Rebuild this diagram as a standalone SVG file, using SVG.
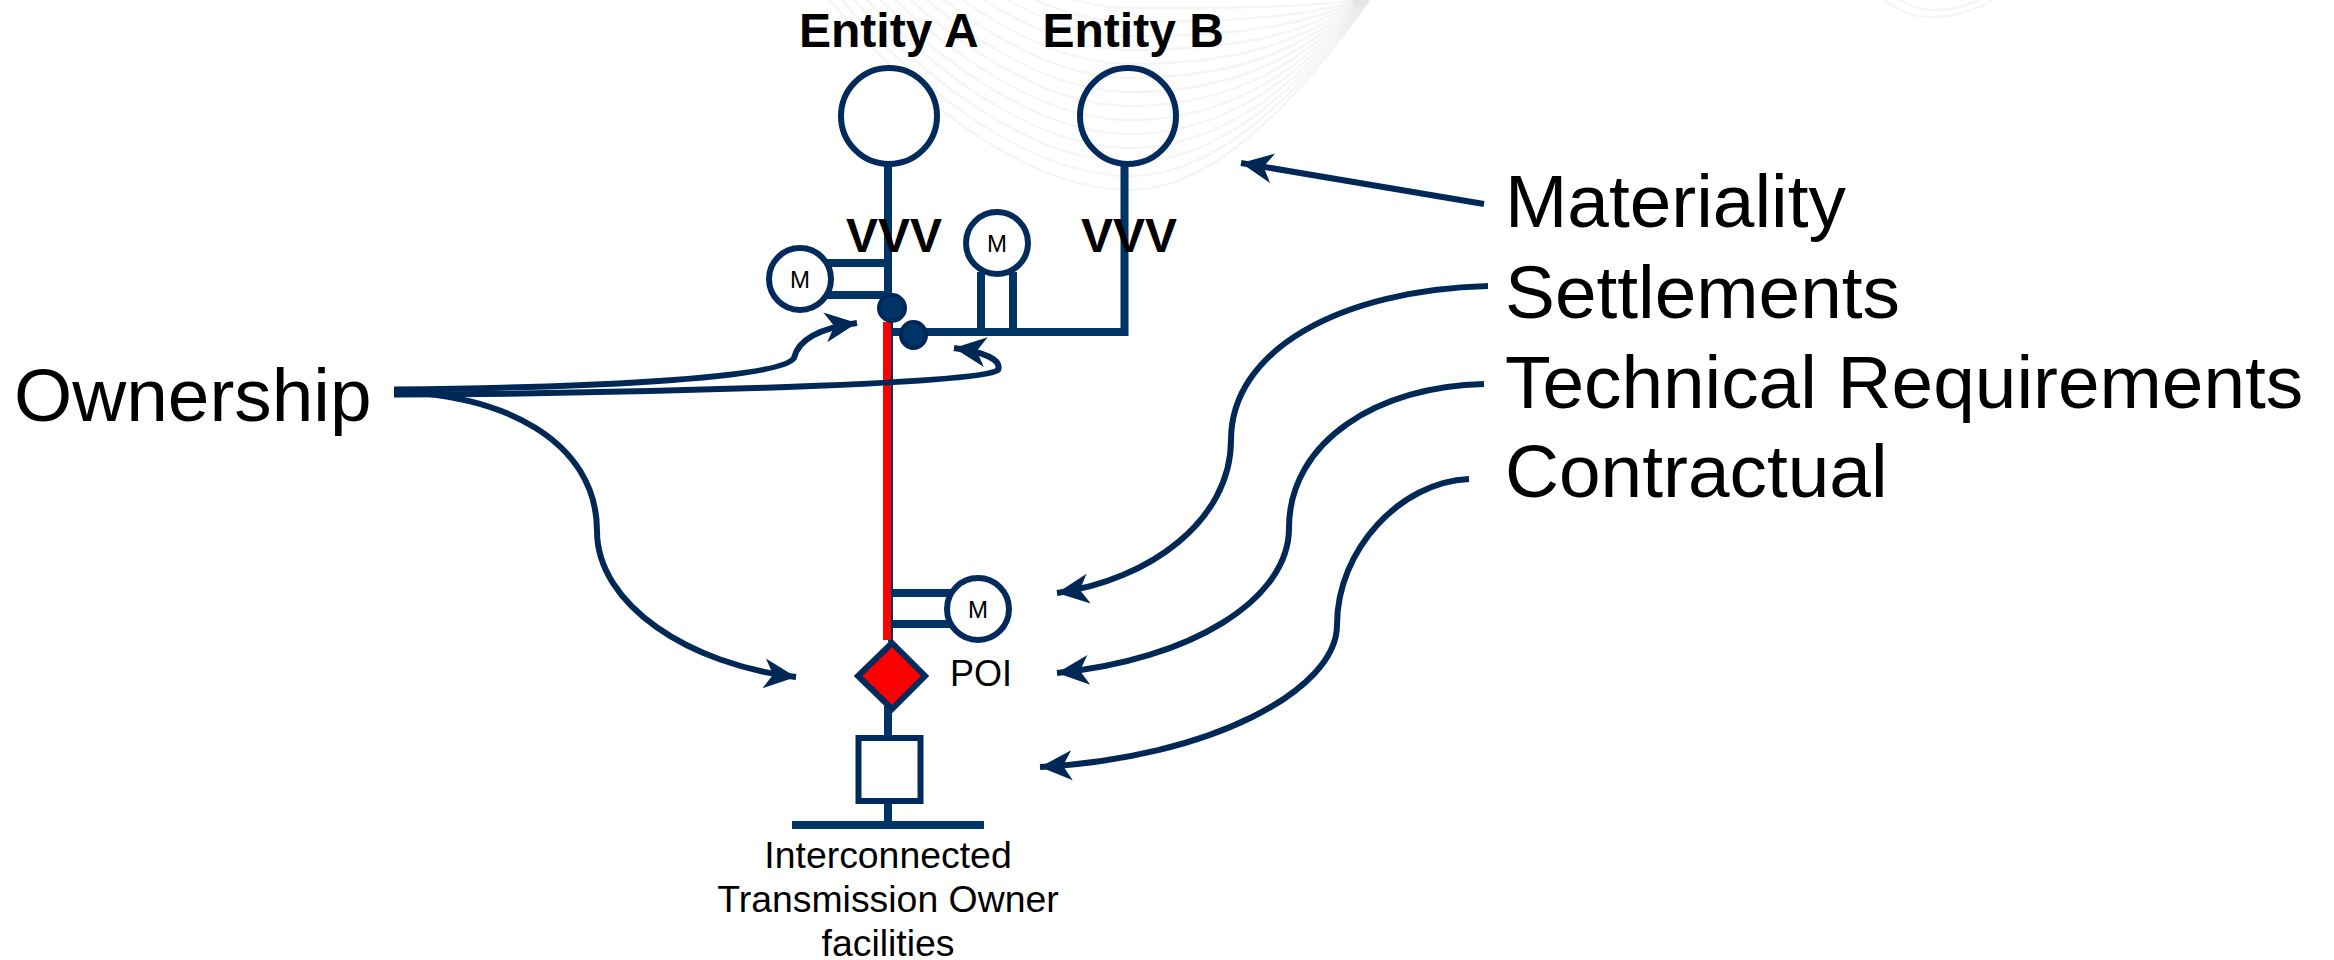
<svg xmlns="http://www.w3.org/2000/svg" width="2334" height="960" viewBox="0 0 2334 960">
<style>
.wm{fill:none;stroke:#000;stroke-opacity:.04;stroke-width:2.5}
.ln{fill:none;stroke:#003366;stroke-width:8}
.nd{fill:#fff;stroke:#002b5c;stroke-width:6}
.arr{fill:none;stroke:#002856;stroke-width:6;marker-end:url(#ah)}
.t{font-family:"Liberation Sans",Arial,sans-serif;fill:#000}
.big{font-size:74.8px}
.bold{font-size:48px;font-weight:700}
.m{font-size:24px;text-anchor:middle}
.lab{font-size:37.4px;text-anchor:middle}
.dot{fill:#003366;stroke:#002856;stroke-width:4}
</style>
<defs>
<marker id="ah" markerUnits="userSpaceOnUse" markerWidth="40" markerHeight="40" refX="32" refY="15" orient="auto" overflow="visible"><path d="M32 15L0 0L9 15L0 30Z" fill="#002856"/></marker>
</defs>
<g id="watermark">
<path class="wm" d="M830 0C930 120 1040 190 1130 190C1210 190 1290 110 1370 0"/>
<path class="wm" d="M830 -14C930 106 1040 176 1130 176C1214 176 1292 102 1369 0"/>
<path class="wm" d="M830 -28C930 92 1040 162 1130 162C1218 162 1294 94 1368 0"/>
<path class="wm" d="M830 -42C930 78 1040 148 1130 148C1222 148 1296 86 1367 0"/>
<path class="wm" d="M830 -56C930 64 1040 134 1130 134C1226 134 1298 78 1366 0"/>
<path class="wm" d="M830 -70C930 50 1040 120 1130 120C1230 120 1300 70 1365 0"/>
<path class="wm" d="M830 -84C930 36 1040 106 1130 106C1234 106 1302 62 1364 0"/>
<path class="wm" d="M830 -98C930 22 1040 92 1130 92C1238 92 1304 54 1363 0"/>
<path class="wm" d="M830 -112C930 8 1040 78 1130 78C1242 78 1306 46 1362 0"/>
<path class="wm" d="M830 -126C930 -6 1040 64 1130 64C1246 64 1308 38 1361 0"/>
<path class="wm" d="M830 -140C930 -20 1040 50 1130 50C1250 50 1310 30 1360 0"/>
<path class="wm" d="M830 -154C930 -34 1040 36 1130 36C1254 36 1312 22 1359 0"/>
<path class="wm" d="M830 -168C930 -48 1040 22 1130 22C1258 22 1314 14 1358 0"/>
<path class="wm" d="M830 -182C930 -62 1040 8 1130 8C1262 8 1316 6 1357 0"/>
<path class="wm" d="M1884 0C1905 15 1915 17 1935 17C1955 17 1975 10 1993 0"/>
<path class="wm" d="M1900 0C1915 9 1925 10 1938 10C1952 10 1965 6 1980 0"/>
</g>
<g id="connectors">
<path class="ln" d="M888 166V300"/>
<path class="ln" d="M1124.5 166V332H891"/>
<path class="ln" d="M981 272V332M1013 272V332"/>
<path class="ln" d="M888 263H826M888 295H826"/>
<path class="ln" d="M892 593H952M892 624H952"/>
<path class="ln" d="M888 706V738M888 800V825"/>
<path d="M890.500 322V642" fill="none" stroke="#003366" stroke-width="5"/>
<path d="M887 322V640" fill="none" stroke="#ff0000" stroke-width="8"/>
<path class="ln" d="M792 825H984"/>
<path d="M1484 204L1241 163" fill="none" stroke="#002856" stroke-width="6" marker-end="url(#ah)"/>
<path class="arr" d="M1488 286C1340 290 1231 350 1231 440C1231 520 1150 580 1057 593"/>
<path class="arr" d="M1484 384C1380 386 1289 440 1289 528C1289 600 1190 660 1057 673"/>
<path class="arr" d="M1469 479C1400 482 1337 550 1337 625C1337 690 1210 758 1040 767"/>
<path class="arr" d="M394 392C500 393 597 440 597 531C597 605 690 665 796 677"/>
<path class="arr" d="M394 389.500C560 388 780 380 794 358C798 340 820 328 857 323"/>
<path class="arr" d="M394 394.500C600 394 980 385 998 370C1002 360 985 352 954 348"/>
</g>
<g id="entity-a"><circle class="nd" cx="889" cy="116" r="48"/><text class="t bold" x="799" y="47">Entity A</text><text class="t bold" x="846" y="252">VVV</text></g>
<g id="entity-b"><circle class="nd" cx="1128" cy="116" r="48" style="fill:none"/><text class="t bold" x="1042.500" y="47">Entity B</text><text class="t bold" x="1081" y="252">VVV</text></g>
<g id="meter-a"><circle class="nd" cx="800" cy="279" r="31"/><text class="t m" x="800" y="288">M</text></g>
<g id="meter-b"><circle class="nd" cx="997" cy="243" r="31"/><text class="t m" x="997" y="252">M</text></g>
<g id="meter-poi"><circle class="nd" cx="978" cy="609" r="31"/><text class="t m" x="978" y="618">M</text></g>
<g id="breaker-a"><ellipse class="dot" cx="892" cy="308" rx="13" ry="13"/></g>
<g id="breaker-b"><ellipse class="dot" cx="913.500" cy="335" rx="12.500" ry="13"/></g>
<g id="poi"><path d="M892 643L925 676L892 709L858 676Z" fill="#ff0000" stroke="#002b5c" stroke-width="6"/><text class="t" x="950" y="686" style="font-size:36px">POI</text></g>
<g id="transformer"><rect x="858.500" y="738" width="62" height="63" fill="#fff" stroke="#002b5c" stroke-width="6"/></g>
<g id="bus-label"><text class="t lab" x="888" y="868">Interconnected</text><text class="t lab" x="888" y="912">Transmission Owner</text><text class="t lab" x="888" y="956">facilities</text></g>
<g id="labels">
<text class="t big" x="14" y="421">Ownership</text>
<text class="t big" x="1505" y="227">Materiality</text>
<text class="t big" x="1505" y="317.500">Settlements</text>
<text class="t big" x="1505" y="408">Technical Requirements</text>
<text class="t big" x="1505" y="497">Contractual</text>
</g>
</svg>
